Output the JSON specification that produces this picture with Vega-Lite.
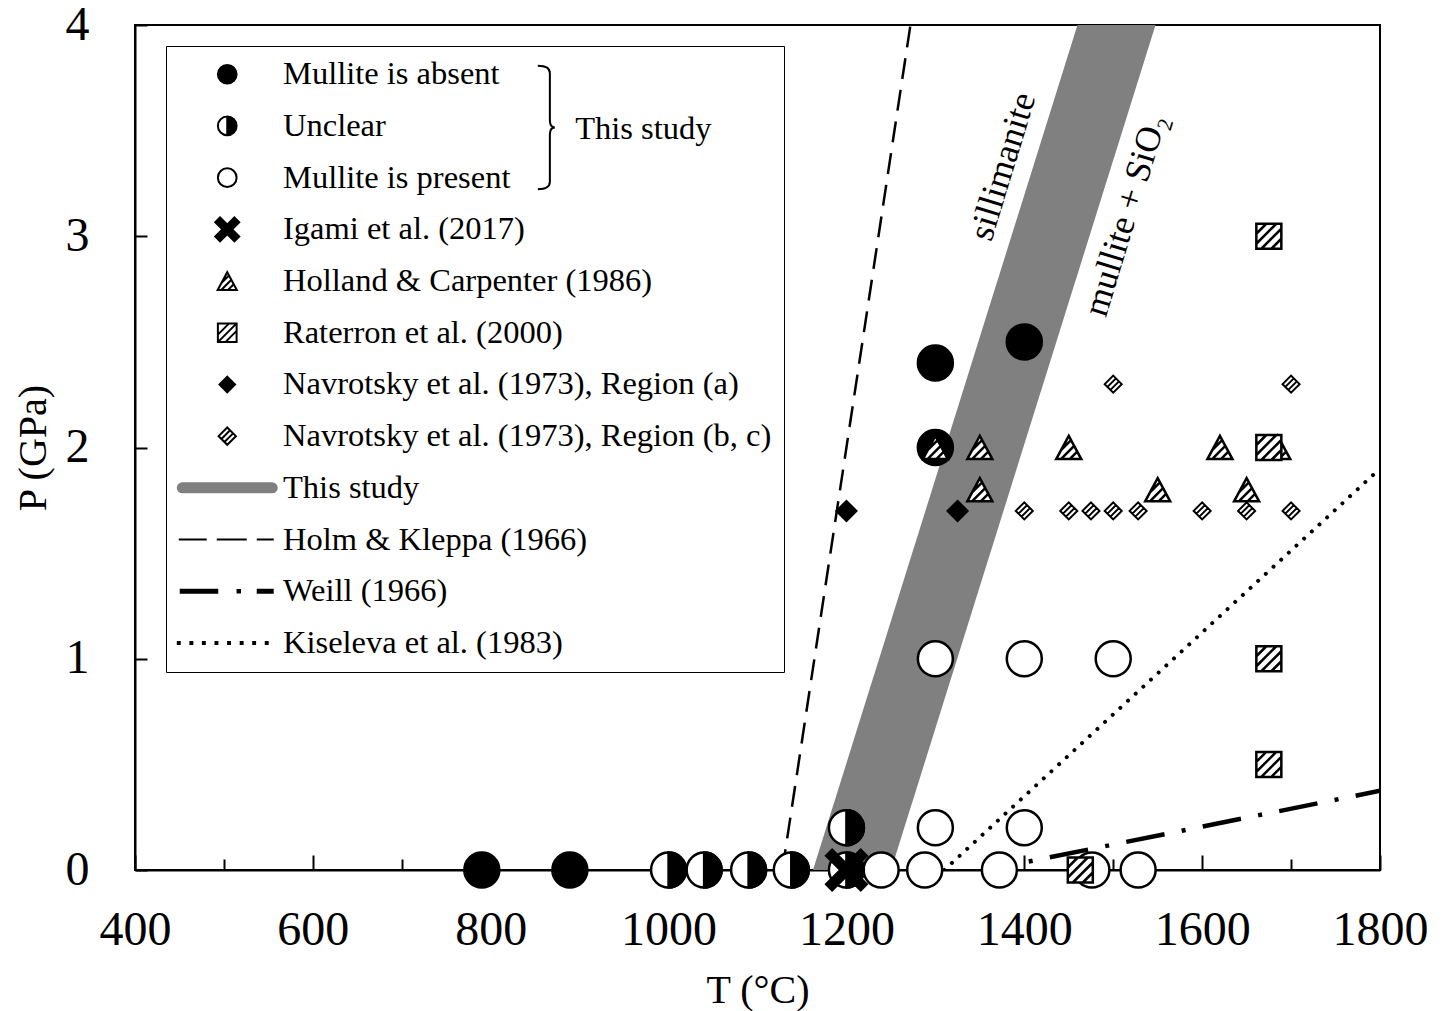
{
  "$schema": "https://vega.github.io/schema/vega-lite/v6.json",
  "width": 1245,
  "height": 845,
  "autosize": {"type": "none"},
  "padding": {"left": 135, "top": 25, "right": 70, "bottom": 141},
  "background": "white",
  "config": {
    "font": "Liberation Serif",
    "view": {"stroke": "black", "strokeWidth": 2},
    "axis": {
      "grid": false,
      "domainColor": "black",
      "domainWidth": 2,
      "tickColor": "black",
      "tickWidth": 2,
      "labelFont": "Liberation Serif",
      "labelFontSize": 48,
      "labelColor": "black",
      "titleFont": "Liberation Serif",
      "titleFontSize": 40,
      "titleFontWeight": "normal",
      "titleColor": "black"
    }
  },
  "datasets": {
    "obs": [
      {"T": 790, "P": 0, "kind": "absent"},
      {"T": 889, "P": 0, "kind": "absent"},
      {"T": 1300, "P": 2.4, "kind": "absent"},
      {"T": 1400, "P": 2.5, "kind": "absent"},
      {"T": 1300, "P": 2.0, "kind": "absent"},
      {"T": 1000, "P": 0, "kind": "unclear"},
      {"T": 1040, "P": 0, "kind": "unclear"},
      {"T": 1090, "P": 0, "kind": "unclear"},
      {"T": 1138, "P": 0, "kind": "unclear"},
      {"T": 1200, "P": 0.2, "kind": "unclear"},
      {"T": 1200, "P": 0, "kind": "unclear"},
      {"T": 1239, "P": 0, "kind": "present"},
      {"T": 1288, "P": 0, "kind": "present"},
      {"T": 1372, "P": 0, "kind": "present"},
      {"T": 1476, "P": 0, "kind": "present"},
      {"T": 1528, "P": 0, "kind": "present"},
      {"T": 1300, "P": 0.2, "kind": "present"},
      {"T": 1400, "P": 0.2, "kind": "present"},
      {"T": 1300, "P": 1.0, "kind": "present"},
      {"T": 1400, "P": 1.0, "kind": "present"},
      {"T": 1500, "P": 1.0, "kind": "present"},
      {"T": 1200, "P": 0, "kind": "igami"},
      {"T": 1300, "P": 2.0, "kind": "holland"},
      {"T": 1350, "P": 2.0, "kind": "holland"},
      {"T": 1350, "P": 1.8, "kind": "holland"},
      {"T": 1450, "P": 2.0, "kind": "holland"},
      {"T": 1550, "P": 1.8, "kind": "holland"},
      {"T": 1620, "P": 2.0, "kind": "holland"},
      {"T": 1650, "P": 1.8, "kind": "holland"},
      {"T": 1685, "P": 2.0, "kind": "holland"},
      {"T": 1675, "P": 3.0, "kind": "raterron"},
      {"T": 1675, "P": 2.0, "kind": "raterron"},
      {"T": 1675, "P": 1.0, "kind": "raterron"},
      {"T": 1675, "P": 0.5, "kind": "raterron"},
      {"T": 1463, "P": 0, "kind": "raterron"},
      {"T": 1200, "P": 1.7, "kind": "navA"},
      {"T": 1325, "P": 1.7, "kind": "navA"},
      {"T": 1500, "P": 2.3, "kind": "navBC"},
      {"T": 1700, "P": 2.3, "kind": "navBC"},
      {"T": 1400, "P": 1.7, "kind": "navBC"},
      {"T": 1450, "P": 1.7, "kind": "navBC"},
      {"T": 1475, "P": 1.7, "kind": "navBC"},
      {"T": 1500, "P": 1.7, "kind": "navBC"},
      {"T": 1528, "P": 1.7, "kind": "navBC"},
      {"T": 1600, "P": 1.7, "kind": "navBC"},
      {"T": 1650, "P": 1.7, "kind": "navBC"},
      {"T": 1700, "P": 1.7, "kind": "navBC"}
    ],
    "curves": [
      {"curve": "band", "T": 1184, "P": -0.3},
      {"curve": "band", "T": 1526, "P": 4.3},
      {"curve": "holm", "T": 1128, "P": 0},
      {"curve": "holm", "T": 1272, "P": 4},
      {"curve": "weill", "T": 1405, "P": 0.04},
      {"curve": "weill", "T": 1800, "P": 0.375},
      {"curve": "kiseleva", "T": 1310, "P": 0},
      {"curve": "kiseleva", "T": 1800, "P": 1.9}
    ],
    "notes": [
      {"T": 1376, "P": 3.33, "text": "sillimanite", "kind": "phase"},
      {"T": 1514, "P": 3.10, "text": "mullite + SiO₂", "kind": "phase"},
      {"T": 895, "P": 3.51, "text": "This study", "kind": "group"},
      {"T": 862, "P": 3.515, "text": "", "kind": "brace"}
    ],
    "key": [
      {"entry": "Mullite is absent"},
      {"entry": "Unclear"},
      {"entry": "Mullite is present"},
      {"entry": "Igami et al. (2017)"},
      {"entry": "Holland & Carpenter (1986)"},
      {"entry": "Raterron et al. (2000)"},
      {"entry": "Navrotsky et al. (1973), Region (a)"},
      {"entry": "Navrotsky et al. (1973), Region (b, c)"},
      {"entry": "This study"},
      {"entry": "Holm & Kleppa (1966)"},
      {"entry": "Weill (1966)"},
      {"entry": "Kiseleva et al. (1983)"}
    ]
  },
  "encoding": {
    "x": {
      "field": "T",
      "type": "quantitative",
      "scale": {"domain": [400, 1800], "nice": false, "zero": false},
      "axis": {
        "title": "T (°C)",
        "values": [400, 500, 600, 700, 800, 900, 1000, 1100, 1200, 1300, 1400, 1500, 1600, 1700, 1800],
        "format": "d",
        "labelExpr": "datum.value % 200 === 0 ? datum.label : ''",
        "tickSize": {"condition": {"test": "datum.value % 200 === 0", "value": -15}, "value": -11},
        "labelPadding": 51,
        "labelFlush": false,
        "labelOverlap": false,
        "titlePadding": 12
      }
    },
    "y": {
      "field": "P",
      "type": "quantitative",
      "scale": {"domain": [0, 4], "nice": false, "zero": false},
      "axis": {
        "title": "P (GPa)",
        "values": [0, 0.5, 1, 1.5, 2, 2.5, 3, 3.5, 4],
        "format": "d",
        "labelExpr": "datum.value % 1 === 0 ? datum.label : ''",
        "tickSize": -12,
        "labelPadding": 58,
        "labelFlush": false,
        "labelOverlap": false,
        "titlePadding": 12
      }
    }
  },
  "layer": [
    {
      "data": {"name": "curves"},
      "transform": [{"filter": "datum.curve === 'band'"}],
      "mark": {"type": "line", "color": "#808080", "strokeWidth": 74.5, "strokeCap": "butt", "clip": true},
      "encoding": {}
    },
    {
      "data": {"name": "curves"},
      "transform": [{"filter": "datum.curve === 'holm'"}],
      "mark": {"type": "line", "color": "black", "strokeWidth": 2.5, "strokeDash": [21, 11], "clip": true},
      "encoding": {}
    },
    {
      "data": {"name": "curves"},
      "transform": [{"filter": "datum.curve === 'weill'"}],
      "mark": {"type": "line", "color": "black", "strokeWidth": 4.5, "strokeDash": [39, 17.5, 4, 17.5], "strokeDashOffset": 56.5, "clip": true},
      "encoding": {}
    },
    {
      "data": {"name": "curves"},
      "transform": [{"filter": "datum.curve === 'kiseleva'"}],
      "mark": {"type": "line", "color": "black", "strokeWidth": 4, "strokeCap": "round", "strokeDash": [0.01, 10.4], "clip": true},
      "encoding": {}
    },
    {
      "data": {"name": "obs"},
      "transform": [{"filter": "datum.kind === 'absent'"}],
      "mark": {"type": "point", "shape": "circle", "size": 1225, "filled": true, "fill": "black", "stroke": "black", "strokeWidth": 2.5, "opacity": 1}
    },
    {
      "data": {"name": "obs"},
      "transform": [{"filter": "datum.kind === 'present' || datum.kind === 'unclear'"}],
      "mark": {"type": "point", "shape": "circle", "size": 1225, "filled": true, "fill": "white", "stroke": "black", "strokeWidth": 2.5, "opacity": 1}
    },
    {
      "data": {"name": "obs"},
      "transform": [{"filter": "datum.kind === 'unclear'"}],
      "mark": {"type": "point", "shape": "M0,-1A1,1 0 0 1 0,1Z", "size": 1225, "filled": true, "fill": "black", "stroke": "black", "strokeWidth": 2.5, "opacity": 1}
    },
    {
      "data": {"name": "obs"},
      "transform": [{"filter": "datum.kind === 'igami'"}],
      "mark": {"type": "point", "shape": "M-1,-0.65L-0.65,-1L1,0.65L0.65,1Z M0.65,-1L1,-0.65L-0.65,1L-1,0.65Z", "size": 1936, "filled": true, "fill": "black", "strokeWidth": 0, "opacity": 1}
    },
    {
      "data": {"name": "obs"},
      "transform": [{"filter": "datum.kind === 'holland'"}],
      "mark": {"type": "point", "shape": "M0,-0.925L1,0.925L-1,0.925Z M-0.618,0.218L0.184,-0.584 M-0.625,0.925L0.43,-0.13 M0.075,0.925L0.675,0.325", "size": 625, "filled": true, "fill": "white", "stroke": "black", "strokeWidth": 2.5, "strokeJoin": "miter", "opacity": 1}
    },
    {
      "data": {"name": "obs"},
      "transform": [{"filter": "datum.kind === 'raterron'"}],
      "mark": {"type": "point", "shape": "M-1,-1H1V1H-1Z M-1,-0.2L-0.2,-1 M-1,0.6L0.6,-1 M-0.6,1L1,-0.6 M0.2,1L1,0.2", "size": 625, "filled": true, "fill": "white", "stroke": "black", "strokeWidth": 2.5, "opacity": 1}
    },
    {
      "data": {"name": "obs"},
      "transform": [{"filter": "datum.kind === 'navA'"}],
      "mark": {"type": "point", "shape": "M0,-1L1,0L0,1L-1,0Z", "size": 529, "filled": true, "fill": "black", "strokeWidth": 0, "opacity": 1}
    },
    {
      "data": {"name": "obs"},
      "transform": [{"filter": "datum.kind === 'navBC'"}],
      "mark": {"type": "point", "shape": "M0,-1L1,0L0,1L-1,0Z M-0.675,0.325L0.325,-0.675 M-0.325,0.675L0.675,-0.325", "size": 289, "filled": true, "fill": "white", "stroke": "black", "strokeWidth": 2, "opacity": 1}
    },
    {
      "data": {"name": "notes"},
      "transform": [{"filter": "datum.kind === 'phase'"}],
      "mark": {"type": "text", "font": "Liberation Serif", "fontSize": 36, "angle": -73, "align": "center", "baseline": "middle", "color": "black"},
      "encoding": {"text": {"field": "text"}}
    },
    {
      "data": {"name": "notes"},
      "transform": [{"filter": "datum.kind === 'group'"}],
      "mark": {"type": "text", "font": "Liberation Serif", "fontSize": 32.5, "align": "left", "baseline": "middle", "color": "black"},
      "encoding": {"text": {"field": "text"}}
    },
    {
      "data": {"name": "notes"},
      "transform": [{"filter": "datum.kind === 'brace'"}],
      "mark": {"type": "point", "shape": "M-0.13,-1Q0.065,-1 0.065,-0.88L0.065,-0.12Q0.065,0 0.146,0Q0.065,0 0.065,0.12L0.065,0.88Q0.065,1 -0.13,1", "size": 15252, "filled": false, "stroke": "black", "strokeWidth": 2, "opacity": 1}
    },
    {
      "data": {"name": "key"},
      "mark": {"type": "point", "filled": true, "size": 576, "strokeWidth": 2, "opacity": 1},
      "encoding": {
        "shape": {
          "field": "entry",
          "type": "nominal",
          "sort": null,
          "scale": {
            "domain": ["Mullite is absent", "Unclear", "Mullite is present", "Igami et al. (2017)", "Holland & Carpenter (1986)", "Raterron et al. (2000)", "Navrotsky et al. (1973), Region (a)", "Navrotsky et al. (1973), Region (b, c)", "This study", "Holm & Kleppa (1966)", "Weill (1966)", "Kiseleva et al. (1983)"],
            "range": [
              "M-0.78,0A0.78,0.78 0 1 1 0.78,0A0.78,0.78 0 1 1 -0.78,0Z",
              "M0,-0.78A0.78,0.78 0 0 1 0,0.78Z M0,-0.78A0.78,0.78 0 0 0 0,0.78A0.78,0.78 0 0 1 0,-0.78",
              "M-0.78,0A0.78,0.78 0 1 1 0.78,0A0.78,0.78 0 1 1 -0.78,0Z",
              "M-1,-0.6L-0.6,-1L1,0.6L0.6,1Z M0.6,-1L1,-0.6L-0.6,1L-1,0.6Z",
              "M0,-0.74L0.8,0.74L-0.8,0.74Z M-0.494,0.174L0.147,-0.467 M-0.5,0.74L0.344,-0.104 M0.06,0.74L0.54,0.26",
              "M-0.78,-0.78H0.78V0.78H-0.78Z M-0.78,0.156L0.156,-0.78 M-0.78,0.78L0.78,-0.78 M-0.156,0.78L0.78,-0.156",
              "M0,-0.65L0.65,0L0,0.65L-0.65,0Z",
              "M0,-0.72L0.72,0L0,0.72L-0.72,0Z M-0.486,0.234L0.234,-0.486 M-0.234,0.486L0.486,-0.234",
              "M-3.75,-0.375H3.75A0.375,0.375 0 0 1 3.75,0.375H-3.75A0.375,0.375 0 0 1 -3.75,-0.375Z",
              "M-4.04,0H-1.71M-0.875,0H1.625M2.46,0H3.875",
              "M-3.875,-0.125H-0.833V0.125H-3.875Z M0.86,-0.1H1.06V0.1H0.86Z M2.54,-0.125H3.79V0.125H2.54Z",
              "M-4.12,-0.08h0.16v0.16h-0.16Z M-3.07,-0.08h0.16v0.16h-0.16Z M-2.03,-0.08h0.16v0.16h-0.16Z M-0.98,-0.08h0.16v0.16h-0.16Z M0.07,-0.08h0.16v0.16h-0.16Z M1.12,-0.08h0.16v0.16h-0.16Z M2.16,-0.08h0.16v0.16h-0.16Z M3.21,-0.08h0.16v0.16h-0.16Z"
            ]
          },
          "legend": {
            "title": null,
            "orient": "none",
            "legendX": 31,
            "legendY": 21,
            "padding": 12,
            "rowPadding": 18.7,
            "symbolOffset": 33,
            "labelOffset": 39.5,
            "labelFont": "Liberation Serif",
            "labelFontSize": 32.5,
            "labelColor": "black",
            "labelLimit": 800,
            "strokeColor": "black",
            "fillColor": "transparent",
            "symbolSize": 576,
            "symbolStrokeWidth": 2,
            "symbolOpacity": 1,
            "encode": {
              "legend": {"update": {"strokeWidth": {"value": 2}}},
              "symbols": {"update": {"strokeJoin": {"value": "round"}}}
            }
          }
        },
        "fill": {
          "field": "entry",
          "type": "nominal",
          "sort": null,
          "scale": {
            "domain": ["Mullite is absent", "Unclear", "Mullite is present", "Igami et al. (2017)", "Holland & Carpenter (1986)", "Raterron et al. (2000)", "Navrotsky et al. (1973), Region (a)", "Navrotsky et al. (1973), Region (b, c)", "This study", "Holm & Kleppa (1966)", "Weill (1966)", "Kiseleva et al. (1983)"],
            "range": ["black", "black", "white", "black", "white", "white", "black", "white", "#808080", "black", "black", "black"]
          }
        },
        "stroke": {
          "field": "entry",
          "type": "nominal",
          "sort": null,
          "scale": {
            "domain": ["Mullite is absent", "Unclear", "Mullite is present", "Igami et al. (2017)", "Holland & Carpenter (1986)", "Raterron et al. (2000)", "Navrotsky et al. (1973), Region (a)", "Navrotsky et al. (1973), Region (b, c)", "This study", "Holm & Kleppa (1966)", "Weill (1966)", "Kiseleva et al. (1983)"],
            "range": ["black", "black", "black", "black", "black", "black", "black", "black", "#808080", "black", "black", "black"]
          }
        }
      }
    }
  ]
}
